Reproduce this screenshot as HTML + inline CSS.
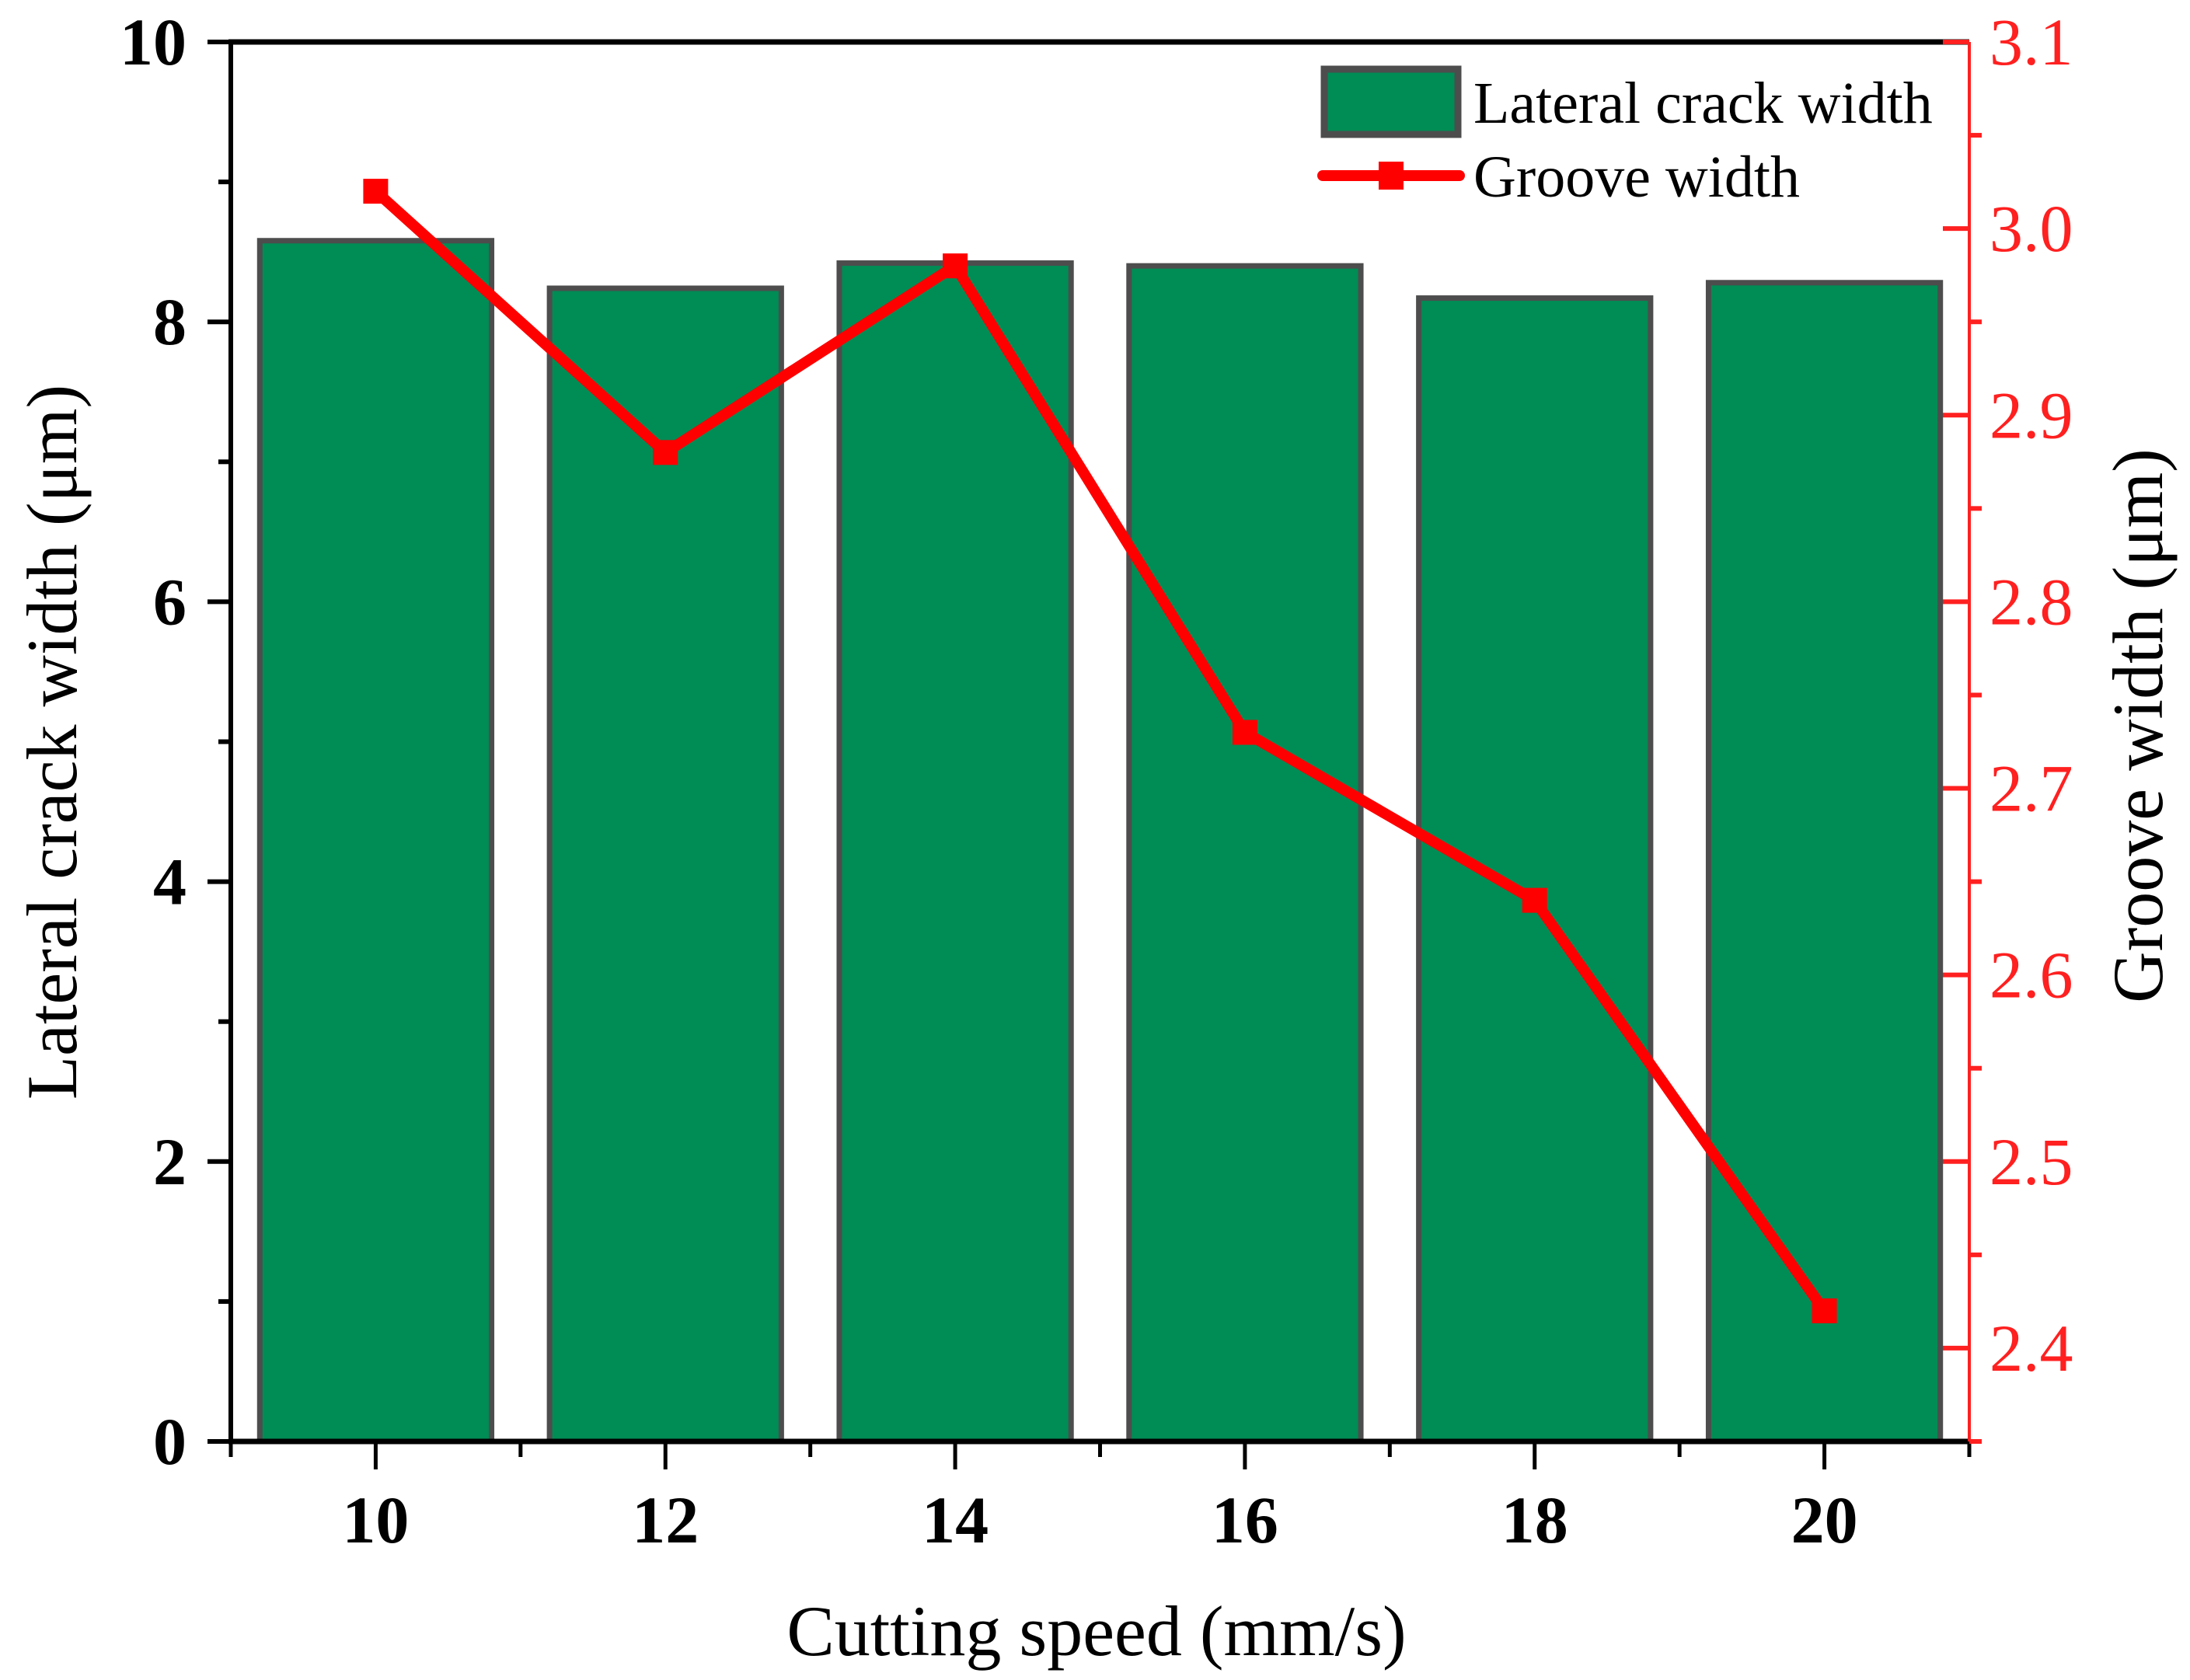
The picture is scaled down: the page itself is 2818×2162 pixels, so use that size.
<!DOCTYPE html>
<html><head><meta charset="utf-8"><style>
html,body{margin:0;padding:0;background:#fff;}
svg{display:block;font-family:"Liberation Serif",serif;}
</style></head><body>
<svg id="chart" width="2818" height="2162" viewBox="0 0 2818 2162" xmlns="http://www.w3.org/2000/svg"></svg>
<script>
const categories=[10,12,14,16,18,20];
const crackWidth=[8.58,8.24,8.42,8.40,8.17,8.28];
const grooveWidth=[3.02,2.88,2.98,2.73,2.64,2.42];
const leftTicks=[0,2,4,6,8,10];
const rightTicks=[2.4,2.5,2.6,2.7,2.8,2.9,3.0,3.1];
const xTicks=[10,12,14,16,18,20];

const L=297,R=2534,T=54,B=1855;
const X0=9,X1=21,Y0=0,Y1=10,RY0=2.35,RY1=3.1;
const sx=v=>L+(v-X0)/(X1-X0)*(R-L);
const sy=v=>B-(v-Y0)/(Y1-Y0)*(B-T);
const sry=v=>B-(v-RY0)/(RY1-RY0)*(B-T);
const svg=document.getElementById('chart');
const NS='http://www.w3.org/2000/svg';
function mk(tag,attrs,parent){const e=document.createElementNS(NS,tag);for(const k in attrs)e.setAttribute(k,attrs[k]);(parent||svg).appendChild(e);return e;}

const bw=(sx(1.6)-sx(0));
categories.forEach((c,i)=>{
  const y=sy(crackWidth[i]);
  const r=mk('rect',{x:sx(c)-bw/2,y:y,width:bw,height:B-y,fill:'#008c55',stroke:'#4d4d4d','stroke-width':7});
  
  
});
const ax=mk('g',{});


mk('line',{x1:L-3,y1:B,x2:R,y2:B,stroke:'#000','stroke-width':7},ax);
mk('line',{x1:L-3,y1:T,x2:R,y2:T,stroke:'#000','stroke-width':7},ax);
mk('line',{x1:L,y1:T,x2:L,y2:B+3,stroke:'#000','stroke-width':6},ax);
mk('line',{x1:R,y1:T,x2:R,y2:B+3,stroke:'#ff2020','stroke-width':4},ax);
for(let v=0;v<=10;v++){
  const major=v%2===0;
  mk('line',{x1:L,y1:sy(v),x2:L-(major?30:16),y2:sy(v),stroke:'#000','stroke-width':6},ax);
}
leftTicks.forEach(v=>{
  const t=mk('text',{x:240,y:sy(v)+29,'text-anchor':'end','font-size':86,'font-weight':'bold',fill:'#000'});
  t.textContent=v;
  
  
});
for(let v=9;v<=21;v++){
  const major=v%2===0;
  mk('line',{x1:sx(v),y1:B,x2:sx(v),y2:B+(major?36:20),stroke:'#000','stroke-width':5},ax);
}
xTicks.forEach(v=>{
  const t=mk('text',{x:sx(v),y:1985,'text-anchor':'middle','font-size':86,'font-weight':'bold',fill:'#000'});
  t.textContent=v;
  
  
});
for(let k=0;k<=15;k++){
  const v=2.35+k*0.05;
  const major=k%2===1;
  if(major) mk('line',{x1:R,y1:sry(v),x2:R-34,y2:sry(v),stroke:'#ff2020','stroke-width':6},ax);
  else mk('line',{x1:R,y1:sry(v),x2:R+16,y2:sry(v),stroke:'#ff2020','stroke-width':6},ax);
}
rightTicks.forEach(v=>{
  const t=mk('text',{x:2560,y:sry(v)+29,'text-anchor':'start','font-size':86,fill:'#ff2020'});
  t.textContent=v.toFixed(1);
  
  
});
const pts=categories.map((c,i)=>sx(c)+','+sry(grooveWidth[i])).join(' ');
const pl=mk('polyline',{points:pts,fill:'none',stroke:'#ff0000','stroke-width':14,'stroke-linejoin':'round'});


categories.forEach((c,i)=>{
  const m=mk('rect',{x:sx(c)-16,y:sry(grooveWidth[i])-16,width:32,height:32,fill:'#ff0000'});
  
  
});
let t=mk('text',{x:1411,y:2130,'text-anchor':'middle','font-size':92,fill:'#000'});
t.textContent='Cutting speed (mm/s)';


t=mk('text',{x:0,y:0,'text-anchor':'middle','font-size':92,fill:'#000',transform:'translate(98,955) rotate(-90)'});
t.textContent='Lateral crack width (μm)';


t=mk('text',{x:0,y:0,'text-anchor':'middle','font-size':92,fill:'#000',transform:'translate(2782,934) rotate(-90)'});
t.textContent='Groove width (μm)';


const lg=mk('g',{});


mk('rect',{x:1704,y:89,width:172,height:84,fill:'#008c55',stroke:'#4d4d4d','stroke-width':9},lg);
t=mk('text',{x:1896,y:158,'font-size':76,fill:'#000'},lg);
t.textContent='Lateral crack width';


mk('line',{x1:1702,y1:226,x2:1878,y2:226,stroke:'#ff0000','stroke-width':14,'stroke-linecap':'round'},lg);
mk('rect',{x:1774,y:208,width:32,height:36,fill:'#ff0000'},lg);
t=mk('text',{x:1896,y:253,'font-size':76,fill:'#000'},lg);
t.textContent='Groove width';


</script>
</body></html>
